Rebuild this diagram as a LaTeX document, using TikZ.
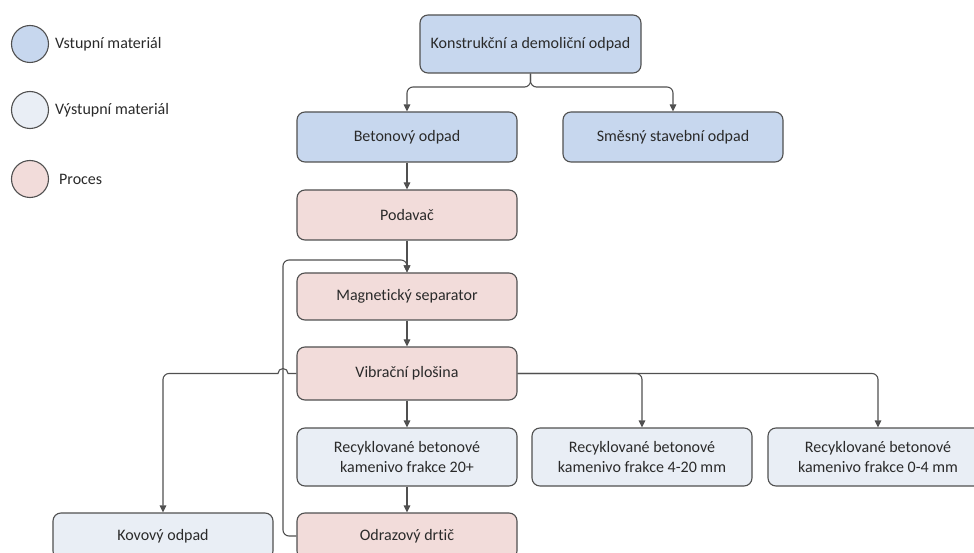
\documentclass[tikz,border=0pt]{standalone}
\usepackage{fontspec}
\setmainfont[RawFeature=-liga]{Carlito}
\usetikzlibrary{arrows.meta}
\definecolor{inblue}{HTML}{C7D7EE}
\definecolor{outblue}{HTML}{E9EEF5}
\definecolor{procpink}{HTML}{F2DCDA}
\definecolor{edgegray}{HTML}{505050}
\definecolor{txtgray}{HTML}{2A2A2A}
\tikzset{
  box/.style={draw=edgegray, line width=1.1bp, rounded corners=8bp, minimum width=220bp,
    align=center, text=txtgray, font=\fontsize{16bp}{20bp}\selectfont, inner sep=2bp},
  inbox/.style={box, fill=inblue},
  outbox/.style={box, fill=outblue},
  procbox/.style={box, fill=procpink},
  conn/.style={draw=edgegray, line width=1.1bp},
  arr/.style={conn, -{Triangle[length=7bp,width=6.5bp]}, shorten >=0pt},
  legcirc/.style={circle, draw=edgegray, line width=1.1bp, minimum size=37bp, inner sep=0pt},
  legtext/.style={anchor=west, text=txtgray, font=\fontsize{16bp}{19bp}\selectfont, inner sep=0pt}
}
\begin{document}
\begin{tikzpicture}[x=1bp, y=-1bp]
\useasboundingbox (0,0) rectangle (974,553);
\begin{scope}
\clip (0,0) rectangle (974,553);
% legend
\node[legcirc, fill=inblue] (l1) at (30,44) {};
\node[legtext] (l1t) at (55,44) {Vstupní materiál};
\node[legcirc, fill=outblue] (l2) at (30,110) {};
\node[legtext] (l2t) at (55,110) {Výstupní materiál};
\node[legcirc, fill=procpink] (l3) at (30,179) {};
\node[legtext] (l3t) at (59,179) {Proces};

% nodes
\node[inbox, minimum width=221bp, minimum height=58bp] (top) at (530.5,44) {Konstrukční a demoliční odpad};
\node[inbox, minimum height=50bp] (beton) at (407,137) {Betonový odpad};
\node[inbox, minimum height=50bp] (smes) at (673,137) {Směsný stavební odpad};
\node[procbox, minimum height=50bp] (podavac) at (407,215) {Podavač};
\node[procbox, minimum height=47bp] (magnet) at (407,296.5) {Magnetický separator};
\node[procbox, minimum height=53bp] (vibr) at (407,373.5) {Vibrační plošina};
\node[outbox, minimum height=58bp] (r20) at (407,457) {Recyklované betonové\\kamenivo frakce 20+};
\node[outbox, minimum height=58bp] (r420) at (642,457) {Recyklované betonové\\kamenivo frakce 4-20 mm};
\node[outbox, minimum height=58bp] (r04) at (878,457) {Recyklované betonové\\kamenivo frakce 0-4 mm};
\node[outbox, minimum height=46bp] (kov) at (163,536) {Kovový odpad};
\node[procbox, minimum height=46bp] (odraz) at (407,536) {Odrazový drtič};

% helper coordinates
\coordinate (split1) at (530.5,87);
\coordinate (loopx) at (283,260);
\coordinate (jump) at (283,373.5);

% connectors
\draw[arr, rounded corners=6bp] (top.south) -- (split1) -| (beton.north);
\draw[arr, rounded corners=6bp] (top.south) -- (split1) -| (smes.north);
\draw[arr] (beton.south) -- (podavac.north);
\draw[arr] (podavac.south) -- (magnet.north);
\draw[arr] (magnet.south) -- (vibr.north);
\draw[arr] (vibr.south) -- (r20.north);
\draw[arr] (r20.south) -- (odraz.north);
\draw[arr, rounded corners=6bp] (vibr.east) -| (r420.north);
\draw[arr, rounded corners=6bp] (vibr.east) -| (r04.north);
\draw[arr] (vibr.west) -- ([xshift=5bp]jump) arc[start angle=0, end angle=180, radius=5bp]
  [rounded corners=6bp] -- (kov.north |- jump) -- (kov.north);
\draw[arr, rounded corners=6bp] (odraz.west) -| (loopx) -| (magnet.north);
\end{scope}
\end{tikzpicture}
\end{document}
